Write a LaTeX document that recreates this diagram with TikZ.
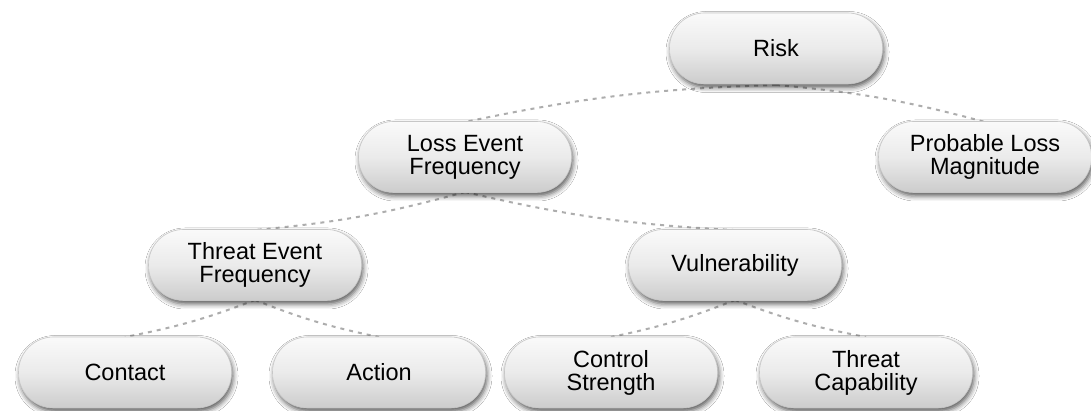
\documentclass[tikz,border=0pt]{standalone}
\usepackage{fontspec}
\setmainfont{Liberation Sans}
\usetikzlibrary{shadows,shadows.blur}
\begin{document}
\begin{tikzpicture}[x=1pt,y=1pt]
\tikzset{
  pill/.style={draw=black!22, line width=0.6pt, rounded corners=35pt,
    minimum width=213pt, minimum height=71pt, inner sep=0pt,
    top color=black!2, bottom color=black!20, middle color=black!8,
    align=center, font=\fontsize{23.5}{23}\selectfont, text=black,
    blur shadow={shadow xshift=1.5pt, shadow yshift=-3.5pt, shadow blur radius=5pt, shadow opacity=65}},
  link/.style={draw=black!32, line width=2pt, dash pattern=on 4pt off 5pt}
}
\fill[white] (0,0) rectangle (1091,411);
\useasboundingbox (0,0) rectangle (1091,411);
% links first (behind nodes)
\coordinate (rB) at (776,326);
\coordinate (lT) at (465,289);
\coordinate (pT) at (985,289);
\coordinate (lB) at (465,219);
\coordinate (tT) at (255,181);
\coordinate (vT) at (733,181);
\coordinate (tB) at (255,111);
\coordinate (vB) at (735,111);
\coordinate (cT) at (125,74);
\coordinate (aT) at (379,74);
\coordinate (sT) at (611,74);
\coordinate (kT) at (866,74);
\draw[link] (rB) to[bend right=5] (lT);
\draw[link] (rB) to[bend left=5] (pT);
\draw[link] (lB) to[bend left=5] (tT);
\draw[link] (lB) to[bend right=5] (vT);
\draw[link] (tB) to[bend left=5] (cT);
\draw[link] (tB) to[bend right=5] (aT);
\draw[link] (vB) to[bend left=5] (sT);
\draw[link] (vB) to[bend right=5] (kT);
% nodes
\node[pill] (risk) at (776,362.5) {Risk};
\node[pill] (lef) at (465,254) {Loss Event\\Frequency};
\node[pill] (plm) at (985,254) {Probable Loss\\Magnitude};
\node[pill] (tef) at (255,146) {Threat Event\\Frequency};
\node[pill] (vul) at (735,146) {Vulnerability};
\node[pill] (con) at (125,38.5) {Contact};
\node[pill] (act) at (379,38.5) {Action};
\node[pill] (cs) at (611,38.5) {Control\\Strength};
\node[pill] (tc) at (866,38.5) {Threat\\Capability};
\end{tikzpicture}
\end{document}
